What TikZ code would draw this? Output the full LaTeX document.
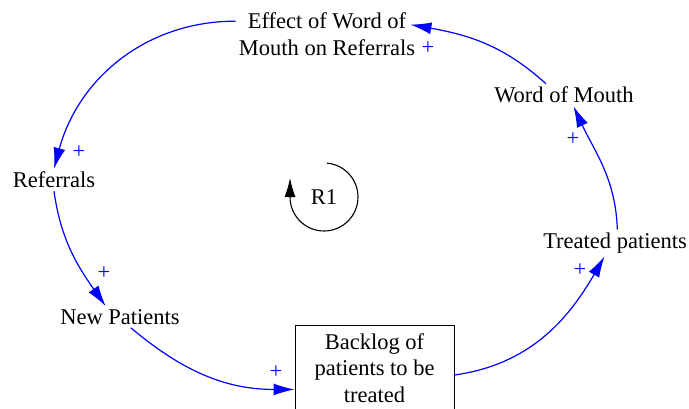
\documentclass[tikz,border=0pt]{standalone}
\usepackage{fontspec}
\setmainfont{LiberationSerif}[Extension=.ttf, UprightFont=*-Regular, BoldFont=*-Bold]
\usetikzlibrary{arrows.meta}
\begin{document}
\begin{tikzpicture}[x=1bp, y=1bp,
    font=\rmfamily\fontsize{22.5bp}{26.5bp}\selectfont,
    varbox/.style ={inner sep=3bp, align=center},
    stockbox/.style ={draw, line width=1bp, minimum width=159bp, minimum height=86bp, inner sep=0pt, align=center},
    link/.style ={draw=blue, line width=1.2bp, -{Latex[length=21bp, width=12bp]}},
    polarity/.style ={text=blue, inner sep=0pt}]
   \useasboundingbox (0,0) rectangle (689,408);

   \node[varbox] (E) at (327,374) {Effect of Word of\\Mouth on Referrals};
   \node[varbox] (W) at (564,313) {Word of Mouth};
   \node[varbox] (R) at (54,228)  {Referrals};
   \node[varbox] (N) at (120,91)  {New Patients};
   \node[varbox] (T) at (615,165) {Treated patients};
   \node[stockbox] (B) at (374.5,40) {Backlog of\\patients to be\\treated};
   \node (L) at (324,211) {R1};

   \node[polarity] (p1) at (580,138) {+};
   \node[polarity] (p2) at (573,269) {+};
   \node[polarity] (p3) at (428,360) {+};
   \node[polarity] (p4) at (79,256)  {+};
   \node[polarity] (p5) at (104,135) {+};
   \node[polarity] (p6) at (276,36)  {+};

   \draw[link] (B.-5) to [out=8, in=-120] (T.-128);
   \draw[link] (T.80) to [out=92, in=-65] (W.-50);
   \draw[link, shorten >=-8bp] (W.148) to [out=138, in=-10] (E.5);
   \draw[link] (E.172) to [out=180, in=75] (R.north);
   \draw[link] (R.south) to [out=-82, in=125] (N.143);
   \draw[link] (N.-45) to [out=-40, in=180] (B.195);

   \draw[line width=1.1bp, -{Latex[length=19bp, width=11bp]}]
     ([shift={(85:34)}]L.center) arc[start angle=85, end angle=-180, radius=34] -- ++(0,19);
 \end{tikzpicture}
\end{document}
